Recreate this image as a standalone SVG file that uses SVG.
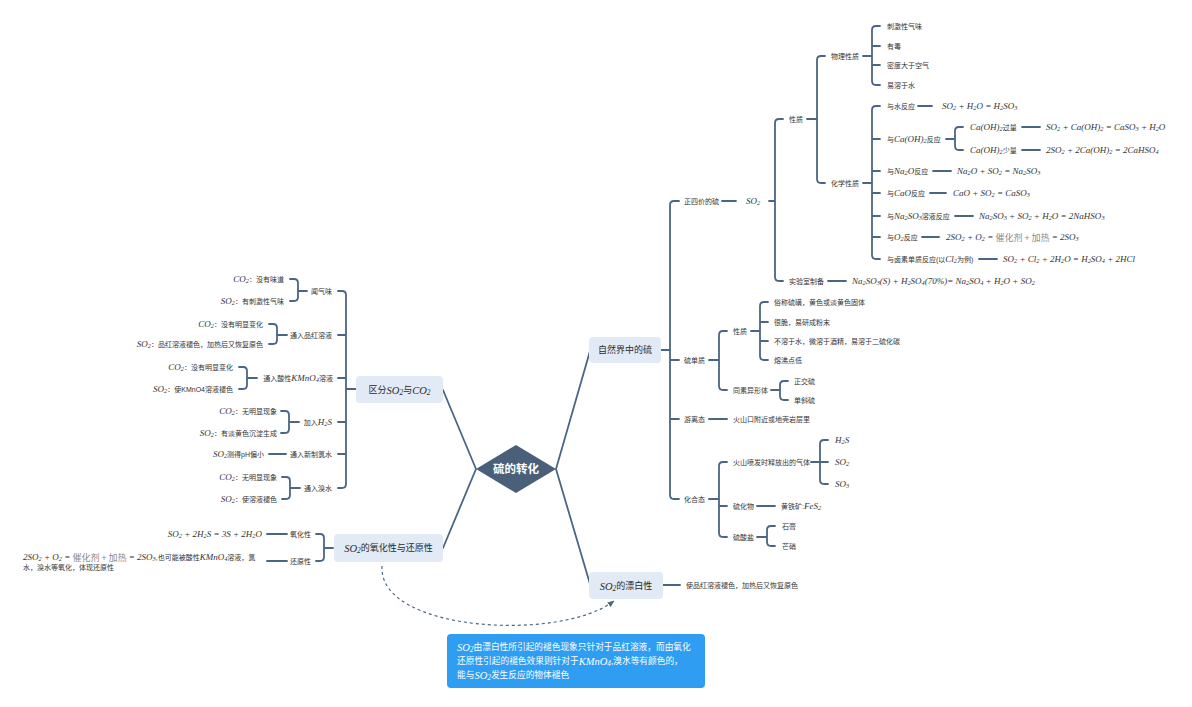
<svg xmlns="http://www.w3.org/2000/svg" width="1192" height="707" viewBox="0 0 1192 707">
<defs>
<style>
.c{fill:none;stroke:#4b6584;stroke-width:1.8;stroke-linecap:round;stroke-linejoin:round}
.k{fill:none;stroke:#4b6584;stroke-width:1.8;stroke-linecap:round}
.dash{fill:none;stroke:#4b6584;stroke-width:1.2;stroke-dasharray:3 3}
.t{font-family:"Liberation Sans","Noto Sans CJK SC",sans-serif;font-size:7px;fill:#333;dominant-baseline:central}
.m{font-family:"Liberation Serif","Noto Sans CJK SC",serif;font-style:italic;font-size:9px}
.d{font-size:70%;baseline-shift:-0.3em}
.g{fill:#8a8a8a;font-style:normal;font-family:"Noto Sans CJK SC",sans-serif}
.n{fill:#e1eaf5}
.nt{font-family:"Liberation Sans","Noto Sans CJK SC",sans-serif;font-size:9px;fill:#2b2b2b;dominant-baseline:central;text-anchor:middle}
.nm{font-family:"Liberation Serif","Noto Sans CJK SC",serif;font-style:italic;font-size:10.5px}
.e{text-anchor:end}
.w{font-family:"Liberation Sans","Noto Sans CJK SC",sans-serif;font-size:8.7px;fill:#fff;dominant-baseline:central}
.wm{font-family:"Liberation Serif","Noto Sans CJK SC",serif;font-style:italic;font-size:10.5px}
</style>
<marker id="ah" viewBox="0 0 10 10" refX="9" refY="5" markerUnits="userSpaceOnUse" markerWidth="7" markerHeight="7" orient="auto"><path d="M0,1 L10,5 L0,9 z" fill="#4b6584"/></marker>
</defs>
<rect width="1192" height="707" fill="#fff"/>

<g id="connectors">
<path class="k" d="M476,469 L443,390 M476,469 L443,548 M556,469 L590,351 M556,469 L590,584"/>
<path class="c" d="M679,201 H674 Q670,201 670,205 V495 Q670,499 674,499 H679 M670,360 H679 M670,419 H679 M661,350 H670"/>
<path class="c" d="M722,201 H736 M783,119 H779 Q775,119 775,123 V277 Q775,281 779,281 H783 M769,201 H775"/>
<path class="c" d="M825,56 H821 Q817,56 817,60 V179 Q817,183 821,183 H825 M807,119 H817"/>
<path class="c" d="M880,26 H876 Q872,26 872,30 V81 Q872,85 876,85 H880 M872,46 H880 M872,65 H880 M863,56 H872"/>
<path class="c" d="M880,106 H876 Q872,106 872,110 V255 Q872,259 876,259 H880 M872,139 H880 M872,171 H880 M872,193 H880 M872,216 H880 M872,237 H880 M863,183 H872"/>
<path class="c" d="M963,127 H959 Q955,127 955,131 V146 Q955,150 959,150 H963 M946,139 H955"/>
<path class="c" d="M918,106 H932 M1022,127 H1040 M1022,150 H1040 M933,171 H951 M930,193 H946 M955,216 H973 M922,237 H939 M979,259 H997 M828,281 H846"/>
<path class="c" d="M727,331 H723 Q719,331 719,335 V386 Q719,390 723,390 H727 M709,360 H719"/>
<path class="c" d="M768,302 H764 Q760,302 760,306 V356 Q760,360 764,360 H768 M760,322 H768 M760,341 H768 M751,331 H760"/>
<path class="c" d="M788,381 H784 Q780,381 780,385 V396 Q780,400 784,400 H788 M771,390 H780"/>
<path class="c" d="M709,419 H727"/>
<path class="c" d="M727,462 H723 Q719,462 719,466 V533 Q719,537 723,537 H727 M719,506 H727 M709,499 H719"/>
<path class="c" d="M828,440 H824 Q820,440 820,444 V480 Q820,484 824,484 H828 M811,462 H828"/>
<path class="c" d="M775,526 H771 Q767,526 767,530 V542 Q767,546 771,546 H775 M757,537 H767 M757,506 H775"/>
<path class="c" d="M663,585 H680"/>
<path class="c" d="M338,291 H342 Q346,291 346,295 V484 Q346,488 342,488 H338 M346,335 H338 M346,378 H338 M346,422 H338 M346,454 H338 M356,389 H346"/>
<path class="c" d="M290,279 H294 Q298,279 298,283 V297 Q298,301 294,301 H290 M307,291 H298"/>
<path class="c" d="M269,324 H273 Q277,324 277,328 V340 Q277,344 273,344 H269 M287,335 H277"/>
<path class="c" d="M239,367 H243 Q247,367 247,371 V385 Q247,389 243,389 H239 M257,378 H247"/>
<path class="c" d="M281,411 H285 Q289,411 289,415 V429 Q289,433 285,433 H281 M299,422 H289"/>
<path class="c" d="M269,454 H286"/>
<path class="c" d="M282,477 H286 Q290,477 290,481 V495 Q290,499 286,499 H282 M300,488 H290"/>
<path class="c" d="M316,534 H320 Q324,534 324,538 V557 Q324,561 320,561 H316 M333,548 H324 M267,534 H287 M267,561 H287"/>
<path class="dash" d="M382,566 C378,632 560,642 614,601" marker-end="url(#ah)"/>
</g>

<g id="root">
<polygon points="476,469 516,445 556,469 516,493" fill="#4a6079"/>
<text x="516" y="469" text-anchor="middle" dominant-baseline="central" font-family="Liberation Sans,Noto Sans CJK SC,sans-serif" font-size="11.5" font-weight="bold" fill="#fff">硫的转化</text>
</g>

<g id="node-nature">
<rect class="n" x="589" y="337" width="72" height="26" rx="4"/>
<text class="nt" x="625" y="350">自然界中的硫</text>
</g>
<g id="node-bleach">
<rect class="n" x="589" y="572" width="74" height="27" rx="4"/>
<text class="nt" x="626" y="585.5"><tspan class="nm">SO<tspan class="d">2</tspan></tspan>的漂白性</text>
</g>
<g id="node-distinguish">
<rect class="n" x="356" y="376" width="87" height="27" rx="4"/>
<text class="nt" x="399.5" y="389.5">区分<tspan class="nm">SO<tspan class="d">2</tspan></tspan>与<tspan class="nm">CO<tspan class="d">2</tspan></tspan></text>
</g>
<g id="node-redox">
<rect class="n" x="334" y="534" width="109" height="28" rx="4"/>
<text class="nt" x="388.5" y="548"><tspan class="nm">SO<tspan class="d">2</tspan></tspan>的氧化性与还原性</text>
</g>

<g id="nature-tree">
<text class="t" x="684" y="201">正四价的硫</text>
<text class="t m" x="746" y="201">SO<tspan class="d">2</tspan></text>
<text class="t" x="789" y="119">性质</text>
<text class="t" x="831" y="56">物理性质</text>
<text class="t" x="887" y="26">刺激性气味</text>
<text class="t" x="887" y="46">有毒</text>
<text class="t" x="887" y="65">密度大于空气</text>
<text class="t" x="887" y="85">易溶于水</text>
<text class="t" x="831" y="183">化学性质</text>
<text class="t" x="887" y="106">与水反应</text>
<text class="t m" x="942" y="106">SO<tspan class="d">2</tspan> + H<tspan class="d">2</tspan>O = H<tspan class="d">2</tspan>SO<tspan class="d">3</tspan></text>
<text class="t" x="887" y="139">与<tspan class="m">Ca(OH)<tspan class="d">2</tspan></tspan>反应</text>
<text class="t" x="970" y="127"><tspan class="m">Ca(OH)<tspan class="d">2</tspan></tspan>过量</text>
<text class="t m" x="1046" y="127">SO<tspan class="d">2</tspan> + Ca(OH)<tspan class="d">2</tspan> = CaSO<tspan class="d">3</tspan> + H<tspan class="d">2</tspan>O</text>
<text class="t" x="970" y="150"><tspan class="m">Ca(OH)<tspan class="d">2</tspan></tspan>少量</text>
<text class="t m" x="1046" y="150">2SO<tspan class="d">2</tspan> + 2Ca(OH)<tspan class="d">2</tspan> = 2CaHSO<tspan class="d">4</tspan></text>
<text class="t" x="887" y="171">与<tspan class="m">Na<tspan class="d">2</tspan>O</tspan>反应</text>
<text class="t m" x="957" y="171">Na<tspan class="d">2</tspan>O + SO<tspan class="d">2</tspan> = Na<tspan class="d">2</tspan>SO<tspan class="d">3</tspan></text>
<text class="t" x="887" y="193">与<tspan class="m">CaO</tspan>反应</text>
<text class="t m" x="953" y="193">CaO + SO<tspan class="d">2</tspan> = CaSO<tspan class="d">3</tspan></text>
<text class="t" x="887" y="216">与<tspan class="m">Na<tspan class="d">2</tspan>SO<tspan class="d">3</tspan></tspan>溶液反应</text>
<text class="t m" x="979" y="216">Na<tspan class="d">2</tspan>SO<tspan class="d">3</tspan> + SO<tspan class="d">2</tspan> + H<tspan class="d">2</tspan>O = 2NaHSO<tspan class="d">3</tspan></text>
<text class="t" x="887" y="237">与<tspan class="m">O<tspan class="d">2</tspan></tspan>反应</text>
<text class="t m" x="946" y="237">2SO<tspan class="d">2</tspan> + O<tspan class="d">2</tspan> = <tspan class="g">催化剂 + 加热</tspan> = 2SO<tspan class="d">3</tspan></text>
<text class="t" x="887" y="259">与卤素单质反应(以<tspan class="m">Cl<tspan class="d">2</tspan></tspan>为例)</text>
<text class="t m" x="1003" y="259">SO<tspan class="d">2</tspan> + Cl<tspan class="d">2</tspan> + 2H<tspan class="d">2</tspan>O = H<tspan class="d">2</tspan>SO<tspan class="d">4</tspan> + 2HCl</text>
<text class="t" x="789" y="281">实验室制备</text>
<text class="t m" x="852" y="281">Na<tspan class="d">2</tspan>SO<tspan class="d">3</tspan>(S) + H<tspan class="d">2</tspan>SO<tspan class="d">4</tspan>(70%)= Na<tspan class="d">2</tspan>SO<tspan class="d">4</tspan> + H<tspan class="d">2</tspan>O + SO<tspan class="d">2</tspan></text>
<text class="t" x="684" y="360">硫单质</text>
<text class="t" x="733" y="331">性质</text>
<text class="t" x="774" y="302">俗称硫磺，黄色或淡黄色固体</text>
<text class="t" x="774" y="322">很脆，易研成粉末</text>
<text class="t" x="774" y="341">不溶于水，微溶于酒精，易溶于二硫化碳</text>
<text class="t" x="774" y="360">熔沸点低</text>
<text class="t" x="733" y="390">同素异形体</text>
<text class="t" x="794" y="381">正交硫</text>
<text class="t" x="794" y="400">单斜硫</text>
<text class="t" x="684" y="419">游离态</text>
<text class="t" x="733" y="419">火山口附近或地壳岩层里</text>
<text class="t" x="684" y="499">化合态</text>
<text class="t" x="733" y="462">火山喷发时释放出的气体</text>
<text class="t m" x="835" y="440">H<tspan class="d">2</tspan>S</text>
<text class="t m" x="835" y="462">SO<tspan class="d">2</tspan></text>
<text class="t m" x="835" y="484">SO<tspan class="d">3</tspan></text>
<text class="t" x="733" y="506">硫化物</text>
<text class="t" x="781" y="506">黄铁矿:<tspan class="m">FeS<tspan class="d">2</tspan></tspan></text>
<text class="t" x="733" y="537">硫酸盐</text>
<text class="t" x="782" y="526">石膏</text>
<text class="t" x="782" y="546">芒硝</text>
</g>

<g id="bleach-tree">
<text class="t" x="686" y="585">使品红溶液褪色，加热后又恢复原色</text>
</g>

<g id="distinguish-tree">
<text class="t e" x="332" y="291">闻气味</text>
<text class="t e" x="284" y="279"><tspan class="m">CO<tspan class="d">2</tspan></tspan>：没有味道</text>
<text class="t e" x="284" y="301"><tspan class="m">SO<tspan class="d">2</tspan></tspan>：有刺激性气味</text>
<text class="t e" x="332" y="335">通入品红溶液</text>
<text class="t e" x="263" y="324"><tspan class="m">CO<tspan class="d">2</tspan></tspan>：没有明显变化</text>
<text class="t e" x="263" y="344"><tspan class="m">SO<tspan class="d">2</tspan></tspan>：品红溶液褪色，加热后又恢复原色</text>
<text class="t e" x="333" y="378">通入酸性<tspan class="m">KMnO<tspan class="d">4</tspan></tspan>溶液</text>
<text class="t e" x="233" y="367"><tspan class="m">CO<tspan class="d">2</tspan></tspan>：没有明显变化</text>
<text class="t e" x="233" y="389"><tspan class="m">SO<tspan class="d">2</tspan></tspan>：使KMnO4溶液褪色</text>
<text class="t e" x="332" y="422">加入<tspan class="m">H<tspan class="d">2</tspan>S</tspan></text>
<text class="t e" x="277" y="411"><tspan class="m">CO<tspan class="d">2</tspan></tspan>：无明显现象</text>
<text class="t e" x="277" y="433"><tspan class="m">SO<tspan class="d">2</tspan></tspan>：有淡黄色沉淀生成</text>
<text class="t e" x="332" y="454">通入新制氯水</text>
<text class="t e" x="264" y="454"><tspan class="m">SO<tspan class="d">2</tspan></tspan>测得pH偏小</text>
<text class="t e" x="332" y="488">通入溴水</text>
<text class="t e" x="277" y="477"><tspan class="m">CO<tspan class="d">2</tspan></tspan>：无明显现象</text>
<text class="t e" x="277" y="499"><tspan class="m">SO<tspan class="d">2</tspan></tspan>：使溶液褪色</text>
</g>

<g id="redox-tree">
<text class="t e" x="311" y="534">氧化性</text>
<text class="t e" x="311" y="561">还原性</text>
<text class="t m e" x="262" y="534">SO<tspan class="d">2</tspan> + 2H<tspan class="d">2</tspan>S = 3S + 2H<tspan class="d">2</tspan>O</text>
<text class="t" x="23" y="557"><tspan class="m">2SO<tspan class="d">2</tspan> + O<tspan class="d">2</tspan> = <tspan class="g">催化剂 + 加热</tspan> = 2SO<tspan class="d">3</tspan></tspan>,也可能被酸性<tspan class="m">KMnO<tspan class="d">4</tspan></tspan>溶液，氯</text>
<text class="t" x="23" y="567">水，溴水等氧化，体现还原性</text>
</g>

<g id="note">
<rect x="447" y="634" width="258" height="54" rx="4" fill="#2e9df2"/>
<text class="w" x="457" y="647"><tspan class="wm">SO<tspan class="d">2</tspan></tspan>由漂白性所引起的褪色现象只针对于品红溶液，而由氧化</text>
<text class="w" x="457" y="661">还原性引起的褪色效果则针对于<tspan class="wm">KMnO<tspan class="d">4</tspan></tspan>,溴水等有颜色的，</text>
<text class="w" x="457" y="675">能与<tspan class="wm">SO<tspan class="d">2</tspan></tspan>发生反应的物体褪色</text>
</g>
</svg>
